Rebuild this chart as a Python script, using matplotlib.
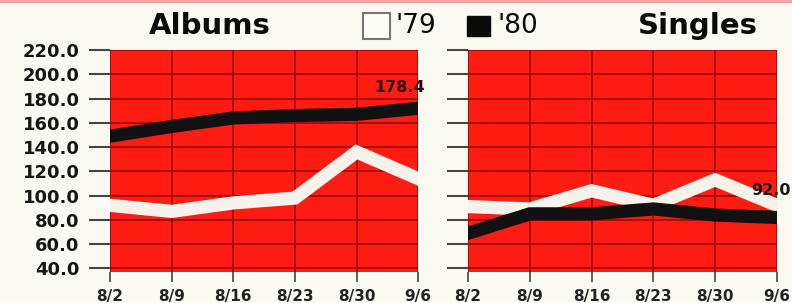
import matplotlib.pyplot as plt
from matplotlib.patches import Rectangle

weeks = ["8/2", "8/9", "8/16", "8/23", "8/30", "9/6"]
y_ticks = [40, 60, 80, 100, 120, 140, 160, 180, 200, 220]

albums_79 = [92, 87, 94, 98, 136, 114]
albums_80 = [149, 157, 164, 166, 167, 172]
singles_79 = [91, 89, 104, 92, 113, 92]
singles_80 = [69, 85, 85, 89, 84, 82]

albums_label = "178.4"
singles_label = "92.0"

bg = "#fbfaf2"
red = "#ff1c12"
grid_red = "#a40a05"
white = "#f7f3ec"
ink = "#111111"

fig = plt.figure(figsize=(7.92, 3.03), dpi=100, facecolor=bg)

def panel(rect, s79, s80, show_labels):
    ax = fig.add_axes(rect)
    ax.set_facecolor(red)
    x = list(range(len(weeks)))
    ax.plot(x, s79, color=white, lw=9.5, solid_joinstyle="miter", zorder=3)
    ax.plot(x, s80, color=ink, lw=9.5, solid_joinstyle="miter", zorder=4)
    ax.set_xlim(0, len(weeks) - 1)
    ax.set_ylim(37, 220)
    ax.set_xticks(x)
    ax.set_xticklabels(weeks, fontsize=11, fontweight="bold", color="#222222")
    ax.set_yticks(y_ticks)
    if show_labels:
        ax.set_yticklabels([f"{v:.1f}" for v in y_ticks], fontsize=13,
                           fontweight="bold", color="#151515")
    else:
        ax.set_yticklabels([])
    ax.tick_params(axis="y", length=15, width=1.5, color="#444444", pad=7)
    ax.tick_params(axis="x", length=7, width=1.2, color="#444444", pad=5)
    ax.grid(True, color=grid_red, lw=1.3)
    ax.set_axisbelow(True)
    for s in ax.spines.values():
        s.set_visible(False)
    return ax

ax1 = panel([0.139, 0.102, 0.389, 0.733], albums_79, albums_80, True)
ax2 = panel([0.591, 0.102, 0.390, 0.733], singles_79, singles_80, False)

ax1.text(4.7, 189, albums_label, fontsize=11.5, fontweight="bold", color="#2a0a08",
         ha="center", va="center", zorder=5)
fig.text(0.998, 0.37, singles_label, fontsize=11.5, fontweight="bold", color="#1a1a1a",
         ha="right", va="center", zorder=5)

fig.text(0.265, 0.915, "Albums", fontsize=21, fontweight="heavy", ha="center",
         va="center", color="#0a0a0a")
fig.text(0.881, 0.915, "Singles", fontsize=21, fontweight="heavy", ha="center",
         va="center", color="#0a0a0a")

# legend
fig.patches.append(Rectangle((0.458, 0.87), 0.035, 0.087, transform=fig.transFigure,
                             facecolor="#fdfdf8", edgecolor="#777777", lw=1.5))
fig.text(0.499, 0.915, "'79", fontsize=19, ha="left", va="center", color="#0a0a0a")
fig.patches.append(Rectangle((0.590, 0.88), 0.029, 0.066, transform=fig.transFigure,
                             facecolor="#0a0a0a", edgecolor="#0a0a0a", lw=1))
fig.text(0.628, 0.915, "'80", fontsize=19, ha="left", va="center", color="#0a0a0a")

# thin red strip along the top edge
fig.patches.append(Rectangle((0, 0.99), 1, 0.01, transform=fig.transFigure,
                             facecolor="#f0a0a0", edgecolor="none"))

fig.savefig("out.png", dpi=100, facecolor=bg)
